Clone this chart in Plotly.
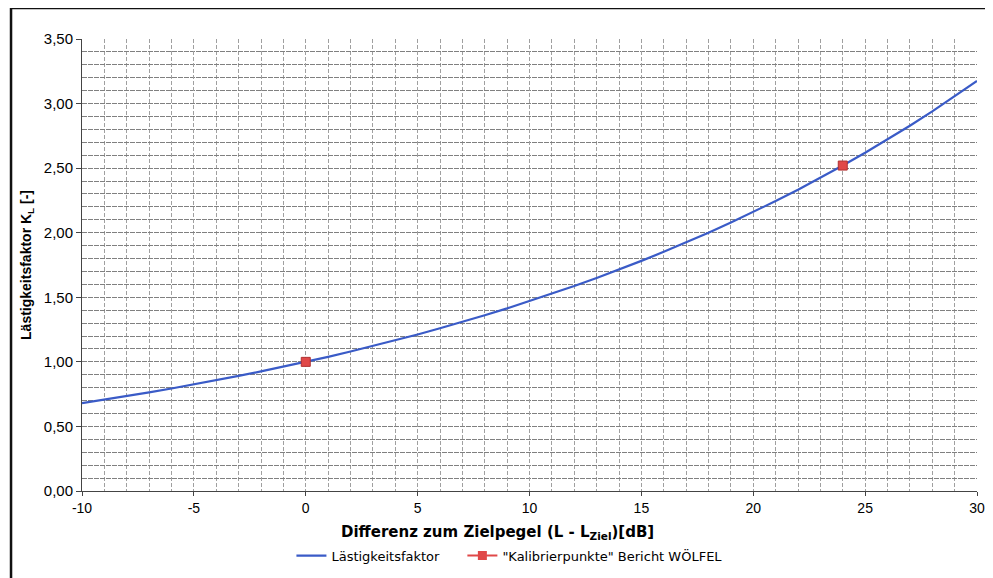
import plotly.graph_objects as go

x_diff = list(range(-10, 31))
k_factor = [0.680, 0.707, 0.735, 0.764, 0.794, 0.825, 0.857, 0.891, 0.926, 0.962,
            1.000, 1.039, 1.080, 1.122, 1.167, 1.212, 1.260, 1.309, 1.361, 1.414,
            1.470, 1.527, 1.587, 1.650, 1.714, 1.782, 1.852, 1.924, 2.000, 2.079,
            2.160, 2.245, 2.333, 2.425, 2.520, 2.619, 2.721, 2.828, 2.939, 3.055,
            3.175]
cal_x = [0, 24]
cal_y = [1.00, 2.52]
x_ticks = [-10, -5, 0, 5, 10, 15, 20, 25, 30]
x_ticktext = ["-10", "-5", "0", "5", "10", "15", "20", "25", "30"]

blue = "#3a5bc7"
red = "#e04848"

fig = go.Figure()
fig.add_trace(go.Scatter(x=x_diff, y=k_factor, mode="lines", name="Lästigkeitsfaktor",
                         line=dict(color=blue, width=2.2), legend="legend"))
fig.add_trace(go.Scatter(x=cal_x, y=cal_y, mode="markers", showlegend=False,
                         marker=dict(symbol="square", size=9, color=red,
                                     line=dict(color="#b03030", width=1))))
fig.add_trace(go.Scatter(x=[None], y=[None], mode="lines+markers",
                         name="\"Kalibrierpunkte\" Bericht WÖLFEL", legend="legend2",
                         line=dict(color=red, width=2),
                         marker=dict(symbol="square", size=9, color=red)))

xgrid = dict(showgrid=True, gridcolor="#a0a0a0", gridwidth=1, griddash="4px,2px")
ygrid = dict(showgrid=True, gridcolor="#808080", gridwidth=1, griddash="5px,1px")
legend_font = dict(family="DejaVu Sans, sans-serif", size=13, color="#000")
fig.update_layout(
    width=985, height=570,
    paper_bgcolor="white", plot_bgcolor="white",
    margin=dict(l=74, r=16, t=31, b=87, autoexpand=False),
    separators=",.",
    font=dict(family="Liberation Sans, Arial, sans-serif", color="#111"),
    xaxis=dict(range=[-10, 30], tickvals=x_ticks, ticktext=x_ticktext, ticks="outside", ticklen=4,
               tickcolor="#444", tickfont=dict(size=14, color="#000"), automargin=False,
               showline=True, linecolor="#444", linewidth=1, zeroline=False,
               minor=dict(dtick=1, **xgrid), **xgrid),
    yaxis=dict(range=[0, 3.5], dtick=0.5, tick0=0, ticks="outside", ticklen=5,
               tickcolor="#444", tickformat=".2f", tickfont=dict(size=15, color="#000"),
               automargin=False,
               showline=True, linecolor="#444", linewidth=1, zeroline=False,
               minor=dict(dtick=0.1, **ygrid), **ygrid),
    legend=dict(orientation="h", x=0.234, xanchor="left", y=-0.143, yanchor="middle",
                font=legend_font, itemwidth=30, bgcolor="rgba(0,0,0,0)"),
    legend2=dict(orientation="h", x=0.425, xanchor="left", y=-0.143, yanchor="middle",
                 font=legend_font, itemwidth=30, bgcolor="rgba(0,0,0,0)"),
    annotations=[
        dict(text="<b>Differenz zum Zielpegel (L - L<sub>Ziel</sub>)[dB]</b>",
             xref="paper", yref="paper", x=0.464, y=-0.091, xanchor="center", yanchor="middle",
             showarrow=False, font=dict(family="DejaVu Sans, sans-serif", size=15, color="#000")),
        dict(text="<b>Lästigkeitsfaktor K<sub>L</sub> [-]</b>",
             xref="paper", yref="paper", x=-0.0615, y=0.5, xanchor="center", yanchor="middle",
             textangle=-90, showarrow=False,
             font=dict(family="Liberation Sans, Arial, sans-serif", size=14, color="#000")),
    ],
    shapes=[
        dict(type="line", xref="paper", yref="paper", x0=-0.0793, x1=1.02, y0=1.0686, y1=1.0686,
             line=dict(color="#111", width=2.5)),
        dict(type="line", xref="paper", yref="paper", x0=-0.0793, x1=-0.0793, y0=1.0686, y1=-0.2,
             line=dict(color="#111", width=2.5)),
    ],
)
fig.write_html("out.html")
